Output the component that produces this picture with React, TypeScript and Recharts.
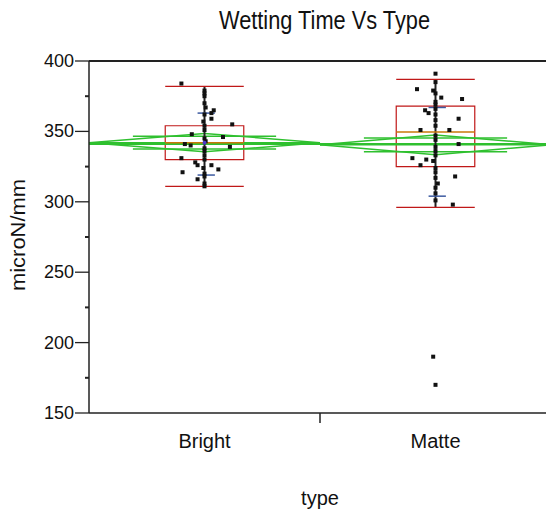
import {
  ComposedChart,
  Scatter,
  XAxis,
  YAxis,
  ReferenceLine,
  ReferenceArea,
  ReferenceDot,
} from "recharts";

const categories = ["Bright", "Matte"];
const xTicks = [0.5, 1, 1.5];
const yTicks = [150, 175, 200, 225, 250, 275, 300, 325, 350, 375, 400];

// jitter offsets (category units) and values
const brightOffsets = [
  -0.1, 0, 0, 0, 0.04, 0.03, 0.03, 0, 0.12, -0.055, 0.08, 0, -0.085, -0.06, 0.11, 0, -0.1, 0,
  -0.04, -0.03, 0.03, 0.06, -0.095, 0, -0.03, 0, 0, 0.005, 0, -0.005, 0, 0.005, 0, 0, -0.005, 0, 0,
];
const brightValues = [
  384, 379, 377, 375, 365, 363, 359, 354, 355, 348, 346, 345, 341, 340, 339, 336, 331, 330,
  328, 326, 326, 323, 321, 320, 316, 313, 370, 367, 362, 357, 351, 343, 338, 333, 324, 318, 311,
];
const matteOffsets = [
  0, -0.08, -0.01, 0, 0.025, 0.115, 0, 0, -0.045, -0.03, 0, 0.1, 0, 0, -0.065, 0.06, 0, 0, 0.1, 0,
  0, -0.1, -0.04, -0.01, -0.065, 0, 0, 0.085, 0, 0.01, 0, 0, 0.075, -0.01, 0, 0, 0, 0, 0,
];
const matteValues = [
  391, 380, 379, 377, 374, 373, 371, 369, 365, 363, 362, 359, 358, 354, 351, 351, 347, 344, 341, 339,
  336, 331, 330, 329, 326, 324, 321, 318, 317, 313, 310, 306, 298, 190, 170, 385, 366, 333, 301,
];

const whiskerLow = [311, 296];
const whiskerHigh = [382, 387];
const quartile1 = [330, 325];
const quartile3 = [354, 368];
const medians = [342, 349.5];
const means = [342, 340.5];
const meanCi = [6.5, 7];
const sdLow = [319, 304];
const sdHigh = [363, 367];
const grandMean = 341;

const FONT = '"Liberation Sans", Arial, sans-serif';
const GREEN = "#2fc02f";
const RED = "#c01818";
const BOX_HALF = 0.17;

const brightPts = brightValues.map((v, i) => ({ x: 0.5 + brightOffsets[i], y: v }));
const mattePts = matteValues.map((v, i) => ({ x: 1.5 + matteOffsets[i], y: v }));

const Dot = (p: any) => <rect x={p.cx - 2} y={p.cy - 2} width={4} height={4} fill="#111" />;

function YTick(p: any) {
  const v = p.payload.value;
  const major = v % 50 === 0;
  return (
    <g>
      <line x1={p.x - (major ? 14 : 4)} x2={p.x} y1={p.y} y2={p.y} stroke="#222" strokeWidth={major ? 1.3 : 2} />
      {major && (
        <text x={p.x - 15} y={p.y} dy={6} textAnchor="end" fontSize={18} fontFamily={FONT} fill="#111">
          {v}
        </text>
      )}
    </g>
  );
}

function XTick(p: any) {
  const v = p.payload.value;
  if (v === 1) {
    return <line x1={p.x} x2={p.x} y1={p.y} y2={p.y + 10} stroke="#222" strokeWidth={1.5} />;
  }
  return (
    <text x={p.x} y={p.y + 35} textAnchor="middle" fontSize={20} fontFamily={FONT} fill="#111">
      {categories[Math.floor(v)]}
    </text>
  );
}

function diamond(i: number) {
  const c = i + 0.5;
  const m = means[i];
  const ci = meanCi[i];
  const ov = ci * 0.7;
  const segs = [
    [i, m, c, m + ci],
    [c, m + ci, i + 1, m],
    [i + 1, m, c, m - ci],
    [c, m - ci, i, m],
    [i, m, i + 1, m],
    [c - 0.31, m + ov, c + 0.31, m + ov],
    [c - 0.31, m - ov, c + 0.31, m - ov],
  ];
  return segs.map((s, k) => (
    <ReferenceLine
      key={`d${i}-${k}`}
      segment={[{ x: s[0], y: s[1] }, { x: s[2], y: s[3] }]}
      stroke={GREEN}
      strokeWidth={1.5}
    />
  ));
}

function boxPlot(i: number) {
  const c = i + 0.5;
  return [
    <ReferenceLine key={`w${i}`} segment={[{ x: c, y: whiskerLow[i] }, { x: c, y: whiskerHigh[i] }]} stroke="#222" strokeWidth={2} />,
    <ReferenceArea key={`b${i}`} x1={c - BOX_HALF} x2={c + BOX_HALF} y1={quartile1[i]} y2={quartile3[i]} fill="none" fillOpacity={0} stroke={RED} strokeWidth={1.2} />,
    <ReferenceLine key={`lo${i}`} segment={[{ x: c - BOX_HALF, y: whiskerLow[i] }, { x: c + BOX_HALF, y: whiskerLow[i] }]} stroke={RED} strokeWidth={1.2} />,
    <ReferenceLine key={`hi${i}`} segment={[{ x: c - BOX_HALF, y: whiskerHigh[i] }, { x: c + BOX_HALF, y: whiskerHigh[i] }]} stroke={RED} strokeWidth={1.2} />,
    <ReferenceLine key={`md${i}`} segment={[{ x: c - BOX_HALF, y: medians[i] }, { x: c + BOX_HALF, y: medians[i] }]} stroke="#c8780a" strokeWidth={1.5} />,
    <ReferenceLine key={`sl${i}`} segment={[{ x: c - 0.03, y: sdLow[i] }, { x: c + 0.045, y: sdLow[i] }]} stroke="#3c5aa0" strokeWidth={1.5} />,
    <ReferenceLine key={`sh${i}`} segment={[{ x: c - 0.03, y: sdHigh[i] }, { x: c + 0.045, y: sdHigh[i] }]} stroke="#3c5aa0" strokeWidth={1.5} />,
  ];
}

export default function App() {
  return (
    <div style={{ position: "fixed", left: 0, top: 0, width: 546, height: 513, overflow: "hidden", background: "#fff" }}>
      <ComposedChart width={560} height={513} margin={{ top: 61, right: 9, bottom: 0, left: 0 }}>
        <XAxis
          dataKey="x"
          type="number"
          domain={[0, 2]}
          ticks={xTicks}
          tick={<XTick />}
          tickLine={false}
          tickSize={0}
          tickMargin={0}
          height={100}
          axisLine={{ stroke: "#222", strokeWidth: 1.5 }}
          allowDataOverflow
          label={{
            content: (p: any) => (
              <text
                x={p.viewBox.x + p.viewBox.width / 2}
                y={505}
                textAnchor="middle"
                fontSize={20}
                fontFamily={FONT}
                fill="#111"
              >
                type
              </text>
            ),
          }}
        />
        <YAxis
          dataKey="y"
          type="number"
          domain={[150, 400]}
          ticks={yTicks}
          tick={<YTick />}
          tickLine={false}
          tickSize={0}
          tickMargin={0}
          width={89}
          interval={0}
          axisLine={{ stroke: "#222", strokeWidth: 1.5 }}
          allowDataOverflow
          label={{
            content: (p: any) => {
              const cy = p.viewBox.y + p.viewBox.height / 2 - 2;
              return (
                <text
                  x={25}
                  y={cy}
                  transform={`rotate(-90, 25, ${cy})`}
                  textAnchor="middle"
                  fontSize={20}
                  fontFamily={FONT}
                  fill="#111"
                  textLength={112}
                  lengthAdjust="spacingAndGlyphs"
                >
                  microN/mm
                </text>
              );
            },
          }}
        />
        <ReferenceLine y={400} stroke="#222" strokeWidth={2} />
        <ReferenceLine y={grandMean} stroke={GREEN} strokeWidth={2} />
        {diamond(0)}
        {diamond(1)}
        {boxPlot(0)}
        {boxPlot(1)}
        <Scatter data={brightPts} shape={Dot} isAnimationActive={false} />
        <Scatter data={mattePts} shape={Dot} isAnimationActive={false} />
        <ReferenceDot x={0.5} y={means[0]} r={2} fill="#4a3cc8" stroke="none" />
      </ComposedChart>
      <svg width={546} height={40} style={{ position: "absolute", left: 0, top: 0 }}>
        <text
          x={324.5}
          y={28.5}
          textAnchor="middle"
          fontSize={25}
          fontFamily={'"Liberation Sans Narrow", "Arial Narrow", "Liberation Sans", sans-serif'}
          fill="#111"
          textLength={211}
          lengthAdjust="spacingAndGlyphs"
        >
          Wetting Time Vs Type
        </text>
      </svg>
    </div>
  );
}
